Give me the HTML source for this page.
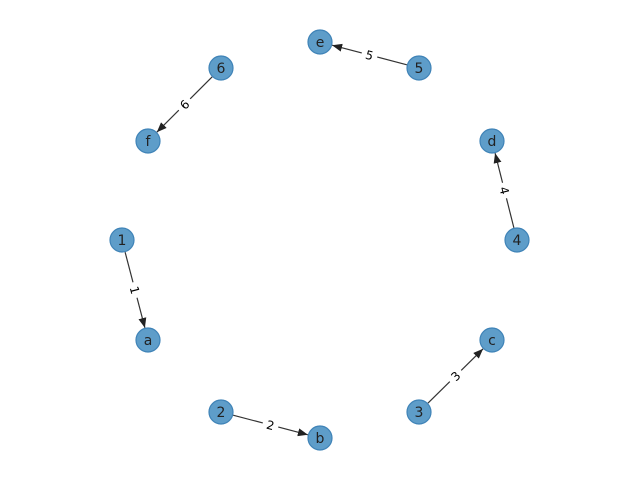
<!DOCTYPE html>
<html><head><style>html,body{margin:0;padding:0;background:#fff;}svg{display:block;}</style></head>
<body>
<svg width="640" height="480" viewBox="0 0 640 480" xmlns="http://www.w3.org/2000/svg" font-family="DejaVu Sans, Liberation Sans, sans-serif">
<defs>
<marker id="ar" markerWidth="10" markerHeight="8" refX="10" refY="4" orient="auto" markerUnits="userSpaceOnUse">
<path d="M0,0 L10,4 L0,8 z" fill="#222"/>
</marker>
</defs>
<g stroke="#333" stroke-width="1.2" marker-end="url(#ar)">
<line x1="125.1" y1="252.1" x2="144.9" y2="327.9"/>
<line x1="233.1" y1="415.2" x2="307.9" y2="434.8"/>
<line x1="427.9" y1="403.2" x2="483.1" y2="348.8"/>
<line x1="513.9" y1="227.9" x2="495.1" y2="153.1"/>
<line x1="406.9" y1="64.8" x2="332.1" y2="45.2"/>
<line x1="212.2" y1="76.8" x2="156.8" y2="132.2"/>
</g>
<g font-size="12" fill="#000" text-anchor="middle">
<g transform="translate(135,290) rotate(75.4)"><rect x="-8" y="-8" width="16" height="16" fill="#fff"/><text y="4.5">1</text></g>
<g transform="translate(270.5,425) rotate(14.7)"><rect x="-8" y="-8" width="16" height="16" fill="#fff"/><text y="4.5">2</text></g>
<g transform="translate(455.5,376) rotate(-44.6)"><rect x="-8" y="-8" width="16" height="16" fill="#fff"/><text y="4.5">3</text></g>
<g transform="translate(504.5,190.5) rotate(75.8)"><rect x="-8" y="-8" width="16" height="16" fill="#fff"/><text y="4.5">4</text></g>
<g transform="translate(369.5,55) rotate(14.7)"><rect x="-8" y="-8" width="16" height="16" fill="#fff"/><text y="4.5">5</text></g>
<g transform="translate(184.5,104.5) rotate(-45)"><rect x="-8" y="-8" width="16" height="16" fill="#fff"/><text y="4.5">6</text></g>
</g>
<g fill="#5e9dc9" stroke="#3f83b7" stroke-width="1.2">
<circle cx="122" cy="240" r="12"/><circle cx="148" cy="340" r="12"/>
<circle cx="221" cy="412" r="12"/><circle cx="320" cy="438" r="12"/>
<circle cx="419" cy="412" r="12"/><circle cx="492" cy="340" r="12"/>
<circle cx="517" cy="240" r="12"/><circle cx="492" cy="141" r="12"/>
<circle cx="419" cy="68" r="12"/><circle cx="320" cy="42" r="12"/>
<circle cx="221" cy="68" r="12"/><circle cx="148" cy="141" r="12"/>
</g>
<g font-size="14" fill="#222" text-anchor="middle">
<text x="122" y="245">1</text><text x="148" y="345">a</text>
<text x="221" y="417">2</text><text x="320" y="443">b</text>
<text x="419" y="417">3</text><text x="492" y="345">c</text>
<text x="517" y="245">4</text><text x="492" y="146">d</text>
<text x="419" y="73">5</text><text x="320" y="47">e</text>
<text x="221" y="73">6</text><text x="148" y="146">f</text>
</g>
</svg>
</body></html>
